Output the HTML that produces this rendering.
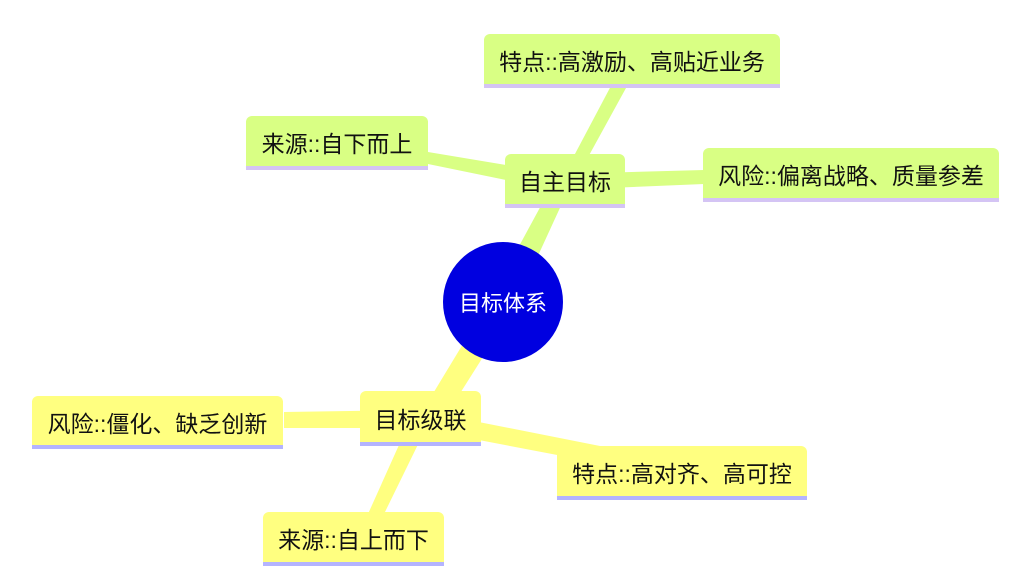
<!DOCTYPE html>
<html><head><meta charset="utf-8"><style>
body{margin:0;width:1030px;height:575px;background:#fff;position:relative;overflow:hidden;font-family:"Liberation Sans","Noto Sans CJK SC",sans-serif}
.n{position:absolute;box-sizing:border-box;border-radius:6px 6px 0 0;font-size:23px;color:#111;display:flex;align-items:center;justify-content:center;padding-top:2px}
.g{background:#d9ff84;border-bottom:4px solid #d4c4f4}
.y{background:#ffff80;border-bottom:4px solid #b4b4ff}
svg{position:absolute;left:0;top:0}
</style></head><body>
<svg width="1030" height="575">
<g fill="#d9ff84">
<polygon points="492,296 514,308 570,186 556,178"/>
<polygon points="558,186 570,190 626,88 612,84"/>
<polygon points="560,174 564,192 428,164 428,152"/>
<polygon points="560,174 560,190 704,184 704,170"/>
</g>
<g fill="#ffff80">
<polygon points="492,296 514,308 440,425 420,415"/>
<polygon points="418,410 428,428 284,428 284,412"/>
<polygon points="418,410 416,428 594,462 600,446"/>
<polygon points="412,416 428,424 384,514 368,514"/>
</g>
</svg>
<div class="n g" style="left:484px;top:34px;width:296px;height:54px">特点::高激励、高贴近业务</div>
<div class="n g" style="left:246px;top:116px;width:182px;height:54px">来源::自下而上</div>
<div class="n g" style="left:505px;top:154px;width:120px;height:54px">自主目标</div>
<div class="n g" style="left:703px;top:148px;width:296px;height:54px">风险::偏离战略、质量参差</div>
<div style="position:absolute;left:443px;top:242px;width:120px;height:120px;border-radius:50%;background:#0000e0;color:#fff;font-size:22px;display:flex;align-items:center;justify-content:center">目标体系</div>
<div class="n y" style="left:360px;top:391px;width:121px;height:55px">目标级联</div>
<div class="n y" style="left:32px;top:396px;width:251px;height:53px">风险::僵化、缺乏创新</div>
<div class="n y" style="left:557px;top:446px;width:250px;height:54px">特点::高对齐、高可控</div>
<div class="n y" style="left:263px;top:512px;width:181px;height:54px">来源::自上而下</div>
</body></html>
